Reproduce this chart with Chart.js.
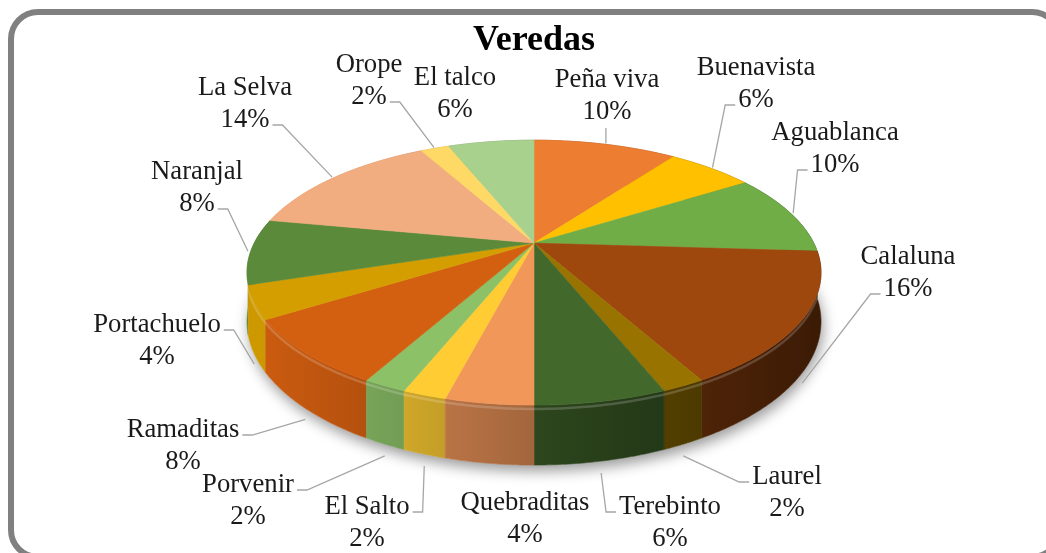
<!DOCTYPE html>
<html>
<head>
<meta charset="utf-8">
<title>Veredas</title>
<script src="https://cdn.jsdelivr.net/npm/chart.js"></script>
<style>
    body { margin: 0; background: #fff; overflow: hidden; }
    canvas { position: absolute; left: 0; top: 0; }
    .frame {
        position: absolute; left: 8px; top: 9px;
        width: 1042px; height: 539px;
        border: 6px solid #808080; border-radius: 30px;
        pointer-events: none;
    }
</style>
</head>
<body>
<canvas id="chart" width="1046" height="553"></canvas>
<div class="frame"></div>
<script>
    const names = ['Peña viva', 'Buenavista', 'Aguablanca', 'Calaluna', 'Laurel', 'Terebinto', 'Quebraditas',
        'El Salto', 'Porvenir', 'Ramaditas', 'Portachuelo', 'Naranjal', 'La Selva', 'Orope', 'El talco']
    const shares = [10, 6, 10, 16, 2, 6, 4, 2, 2, 8, 4, 8, 14, 2, 6]
    const colors = ['#ED7D31', '#FFC000', '#70AD47', '#9E480E', '#997300', '#43682B', '#F1975A',
        '#FFCD33', '#8CC168', '#D35F10', '#D49E00', '#5B8B3A', '#F1AD80', '#FFD966', '#A9D18E']

    // where Excel put each data label (centre of its first line, page pixels)
    const labelPos = [[607, 80], [756, 68], [835, 133], [908, 257], [787, 477], [670, 507], [525, 503],
        [367, 507], [248, 485], [183, 430], [157, 325], [197, 172], [245, 88], [369, 65], [455, 78]]
    const noLeader = ['Quebraditas', 'El talco']

    // fake 3d: tilt + a bit of perspective, sizes relative to the pie radius
    const PERSP = 0.223
    const RX = 2.667, RY = 1.2, DEPTH = 0.444
    const LINE = 32

    const shade = (hex, f) => {
        const n = parseInt(hex.slice(1), 16)
        const c = [(n >> 16) & 255, (n >> 8) & 255, n & 255].map(v => Math.min(255, Math.round(v * f)))
        return `rgb(${c[0]},${c[1]},${c[2]})`
    }

    const geom = (chart) => {
        const arc = chart.getDatasetMeta(0).data[0]
        const R = arc.outerRadius
        return { cx: arc.x, cy: arc.y, rx: R * RX, ry: R * RY, h: R * DEPTH }
    }

    // t = angle clockwise from 12 o'clock, r = fraction of radius, drop = how far below the top face
    const proj = (g, t, r, drop) => {
        const X = r * Math.sin(t), Z = r * Math.cos(t)
        const w = 1 + PERSP * Z
        return [g.cx + g.rx * X / w, g.cy + (drop - g.ry * Z) / w]
    }

    const edge = (g, t0, t1, drop) => {
        const n = Math.max(2, Math.ceil((t1 - t0) / 0.01))
        const pts = []
        for (let i = 0; i <= n; i++) pts.push(proj(g, t0 + (t1 - t0) * i / n, 1, drop))
        return pts
    }

    const path = (ctx, pts) => {
        ctx.beginPath()
        pts.forEach(([x, y], k) => k ? ctx.lineTo(x, y) : ctx.moveTo(x, y))
    }

    const pie3d = {
        id: 'pie3d',
        beforeDatasetsDraw(chart) {
            const ctx = chart.ctx
            const g = geom(chart)
            const slices = chart.getDatasetMeta(0).data.map((a, i) => ({
                i, t0: a.startAngle + Math.PI / 2, t1: a.endAngle + Math.PI / 2
            }))

            // soft shadow under the pie
            ctx.save()
            path(ctx, edge(g, 0, 2 * Math.PI, g.h))
            ctx.closePath()
            ctx.shadowColor = 'rgba(0,0,0,0.4)'
            ctx.shadowBlur = 14
            ctx.shadowOffsetX = 2
            ctx.shadowOffsetY = 6
            ctx.fillStyle = '#fff'
            ctx.fill()
            ctx.restore()

            // side walls, back to front
            const order = slices.slice().sort((a, b) => Math.cos((b.t0 + b.t1) / 2) - Math.cos((a.t0 + a.t1) / 2))
            for (const s of order) {
                const top = edge(g, s.t0, s.t1, 0)
                const bot = edge(g, s.t0, s.t1, g.h).reverse()
                path(ctx, top.concat(bot))
                ctx.closePath()
                const grad = ctx.createLinearGradient(g.cx - g.rx, 0, g.cx + g.rx, 0)
                grad.addColorStop(0, shade(colors[s.i], 0.97))
                grad.addColorStop(1, shade(colors[s.i], 0.38))
                ctx.fillStyle = grad
                ctx.fill()
                ctx.strokeStyle = grad
                ctx.lineWidth = 0.6
                ctx.stroke()
            }

            // bevel highlight on the rim
            ctx.save()
            path(ctx, edge(g, Math.PI * 0.55, Math.PI * 1.45, 3))
            ctx.strokeStyle = 'rgba(255,255,255,0.18)'
            ctx.lineWidth = 2.5
            ctx.stroke()
            ctx.restore()

            // top face
            for (const s of slices) {
                ctx.beginPath()
                ctx.moveTo(g.cx, g.cy)
                edge(g, s.t0, s.t1, 0).forEach(([x, y]) => ctx.lineTo(x, y))
                ctx.closePath()
                ctx.fillStyle = colors[s.i]
                ctx.fill()
                ctx.strokeStyle = colors[s.i]
                ctx.lineWidth = 0.6
                ctx.stroke()
            }

            // data labels + leader lines
            ctx.save()
            ctx.font = '26.7px "Liberation Serif", "Times New Roman", serif'
            ctx.textAlign = 'center'
            ctx.textBaseline = 'middle'
            for (const s of slices) {
                const [lx, ly] = labelPos[s.i]
                const lines = [names[s.i], shares[s.i] + '%']
                ctx.fillStyle = '#1a1a1a'
                lines.forEach((t, k) => ctx.fillText(t, lx, ly + k * LINE))

                if (noLeader.includes(names[s.i])) continue
                const mid = (s.t0 + s.t1) / 2
                const front = Math.cos(mid) < -PERSP
                const [ax, ay] = front ? proj(g, mid, 1, g.h * 1.2) : proj(g, mid, 1.01, 0)

                const cands = []
                lines.forEach((t, k) => {
                    const w = ctx.measureText(t).width
                    const y = ly + k * LINE + 5
                    cands.push({ x: lx - w / 2 - 3, y, dx: -10 })
                    cands.push({ x: lx + w / 2 + 3, y, dx: 10 })
                })
                const w2 = ctx.measureText(lines[1]).width
                if (Math.abs(ax - lx) < w2 / 2) cands.push({ x: ax, y: ly + LINE + 16, dx: 0 })
                let best = cands[0]
                for (const c of cands) {
                    if (Math.hypot(c.x - ax, c.y - ay) < Math.hypot(best.x - ax, best.y - ay)) best = c
                }
                ctx.beginPath()
                ctx.moveTo(best.x, best.y)
                if (best.dx) ctx.lineTo(best.x + best.dx, best.y)
                ctx.lineTo(ax, ay)
                ctx.strokeStyle = '#A6A6A6'
                ctx.lineWidth = 1.3
                ctx.stroke()
            }
            ctx.restore()

            return false
        }
    }

    new Chart(document.getElementById('chart'), {
        type: 'pie',
        data: {
            labels: names,
            datasets: [{
                data: shares,
                backgroundColor: colors,
                borderWidth: 0,
                hoverOffset: 0
            }]
        },
        options: {
            responsive: false,
            animation: false,
            layout: {
                padding: { left: 22, right: 0, top: 0, bottom: 205 }
            },
            plugins: {
                legend: { display: false },
                tooltip: { enabled: false },
                title: {
                    display: true,
                    text: 'Veredas',
                    color: '#000',
                    font: { family: '"Liberation Serif", "Times New Roman", serif', size: 36, weight: 'bold' },
                    padding: { top: 19, bottom: 76 }
                }
            }
        },
        plugins: [pie3d]
    })
</script>
</body>
</html>
